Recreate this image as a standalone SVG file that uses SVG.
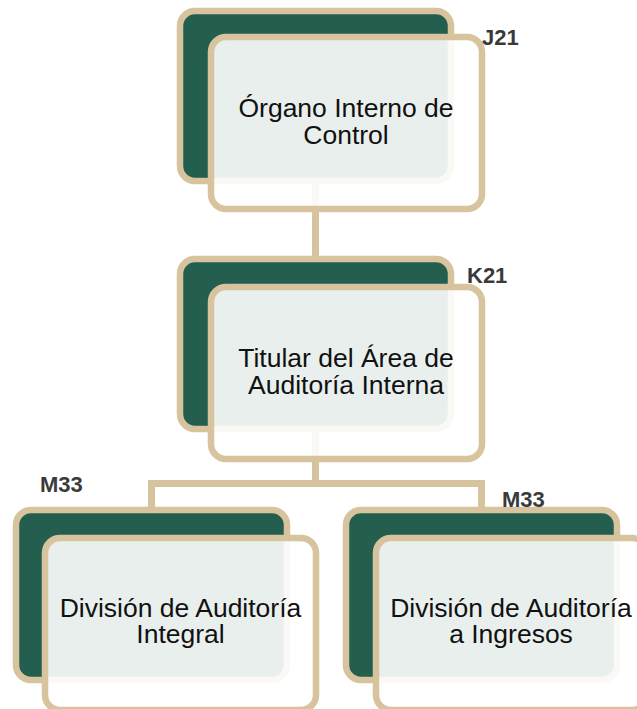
<svg xmlns="http://www.w3.org/2000/svg" width="637" height="709" viewBox="0 0 637 709">
<style>
.back{fill:#235E4E;stroke:#D7C39D;stroke-width:6.5}
.front{fill:#FFFFFF;fill-opacity:0.9;stroke:#D7C39D;stroke-width:6.5}
.conn{fill:none;stroke:#D7C39D;stroke-width:7;stroke-linejoin:miter}
.t{font-family:"Liberation Sans",Arial,sans-serif;font-size:26.5px;fill:#111111;text-anchor:middle}
.lbl{font-family:"Liberation Sans",Arial,sans-serif;font-size:22px;font-weight:bold;fill:#3A3A3A}
</style>
<rect width="637" height="709" fill="#FFFFFF"/>
<g id="connectors">
<path class="conn" d="M315.5 181 V259"/>
<path class="conn" d="M315.5 429 V483.5"/>
<path class="conn" d="M151.5 510 V483.5 H481.5 V510"/>
</g>
<g id="node-j21">
<rect class="back" x="180" y="11" width="271" height="170" rx="15"/>
<rect class="front" x="211" y="37" width="271" height="172" rx="15"/>
<text class="t"><tspan x="346" y="117">Órgano Interno de</tspan><tspan x="346" y="144">Control</tspan></text>
<text class="lbl" x="482" y="45">J21</text>
</g>
<g id="node-k21">
<rect class="back" x="180" y="259" width="271" height="170" rx="15"/>
<rect class="front" x="211" y="287" width="271" height="172" rx="15"/>
<text class="t"><tspan x="346" y="367">Titular del Área de</tspan><tspan x="346" y="394">Auditoría Interna</tspan></text>
<text class="lbl" x="467" y="283">K21</text>
</g>
<g id="node-m33-integral">
<rect class="back" x="16" y="510" width="271" height="170" rx="15"/>
<rect class="front" x="45" y="538" width="271" height="172" rx="15"/>
<text class="t"><tspan x="180.5" y="617">División de Auditoría</tspan><tspan x="180.5" y="643">Integral</tspan></text>
<text class="lbl" x="40" y="492">M33</text>
</g>
<g id="node-m33-ingresos">
<rect class="back" x="346" y="510" width="271" height="170" rx="15"/>
<rect class="front" x="376" y="538" width="271" height="172" rx="15"/>
<text class="t"><tspan x="511" y="617">División de Auditoría</tspan><tspan x="511" y="643">a Ingresos</tspan></text>
<text class="lbl" x="502" y="507">M33</text>
</g>
</svg>
